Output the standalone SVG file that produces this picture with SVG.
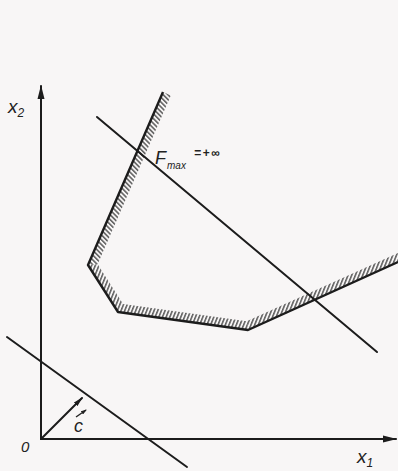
<svg xmlns="http://www.w3.org/2000/svg" width="398" height="471" viewBox="0 0 398 471">
<style>
.ln{stroke:#1c1c1c;stroke-width:2;fill:none;stroke-linecap:round}
.bd{stroke:#1c1c1c;stroke-width:2.4;fill:none;stroke-linejoin:round}
.lbl{font-family:"Liberation Sans","DejaVu Sans",sans-serif;font-style:italic;fill:#222}
</style>
<defs>
<pattern id="hA" patternUnits="userSpaceOnUse" width="3.4" height="10" patternTransform="rotate(-45)">
<line x1="0.8" y1="0" x2="0.8" y2="10" stroke="#404040" stroke-width="1.3"/>
</pattern>
<pattern id="hB" patternUnits="userSpaceOnUse" width="3.4" height="10" patternTransform="rotate(22)">
<line x1="0.8" y1="0" x2="0.8" y2="10" stroke="#404040" stroke-width="1.3"/>
</pattern>
<marker id="ah" viewBox="0 0 14 8" refX="13" refY="4" markerWidth="14" markerHeight="8" markerUnits="userSpaceOnUse" orient="auto">
<path d="M0,0.5 L14,4 L0,7.5 Z" fill="#1c1c1c"/>
</marker>
<marker id="ahs" viewBox="0 0 10 6" refX="9" refY="3" markerWidth="10" markerHeight="6" markerUnits="userSpaceOnUse" orient="auto">
<path d="M0,0.5 L10,3 L0,5.5 Z" fill="#1c1c1c"/>
</marker>
<marker id="aht" viewBox="0 0 6 4" refX="5" refY="2" markerWidth="6" markerHeight="4" markerUnits="userSpaceOnUse" orient="auto">
<path d="M0,0 L6,2 L0,4 Z" fill="#222"/>
</marker>
</defs>
<rect width="398" height="471" fill="#f8f6f6"/>

<g id="axes">
<line class="ln" x1="41" y1="439" x2="41" y2="86" marker-end="url(#ah)"/>
<line class="ln" x1="41" y1="439" x2="396" y2="439" marker-end="url(#ah)"/>
<text class="lbl" x="8" y="113" font-size="19">x<tspan font-size="12" dy="4">2</tspan></text>
<text class="lbl" x="357" y="463" font-size="19">x<tspan font-size="12" dy="4">1</tspan></text>
<text class="lbl" x="21" y="452" font-size="15">0</text>
</g>

<g id="region">
<polygon points="163,92 88,265 97.6,264.2 170.8,95.4" fill="url(#hA)"/>
<polygon points="88,265 118,312 123.1,304.1 97.6,264.2" fill="url(#hB)"/>
<polygon points="118,312 248,330 246.7,321.3 123.1,304.1" fill="url(#hB)"/>
<polygon points="248,330 398,262 398,252.9 246.7,321.3" fill="url(#hB)"/>
<polyline class="bd" points="163,92 88,265 118,312 248,330 398,262"/>
</g>

<g id="connectors">
<line class="ln" x1="97" y1="117" x2="377" y2="352"/>
<line class="ln" x1="7" y1="337" x2="187" y2="467"/>
<line class="ln" x1="41" y1="439" x2="82" y2="398" stroke-width="1.8" marker-end="url(#ahs)"/>
</g>

<g id="labels">
<text class="lbl" x="155" y="164" font-size="18">F</text>
<text class="lbl" x="167" y="169" font-size="10">max</text>
<text class="lbl" x="194" y="157" font-size="12" font-weight="bold" letter-spacing="1.5">=+∞</text>
<text class="lbl" x="74" y="432" font-size="18">c</text>
<line x1="76" y1="417" x2="86" y2="410" stroke="#222" stroke-width="1.4" marker-end="url(#aht)"/>
</g>
</svg>
